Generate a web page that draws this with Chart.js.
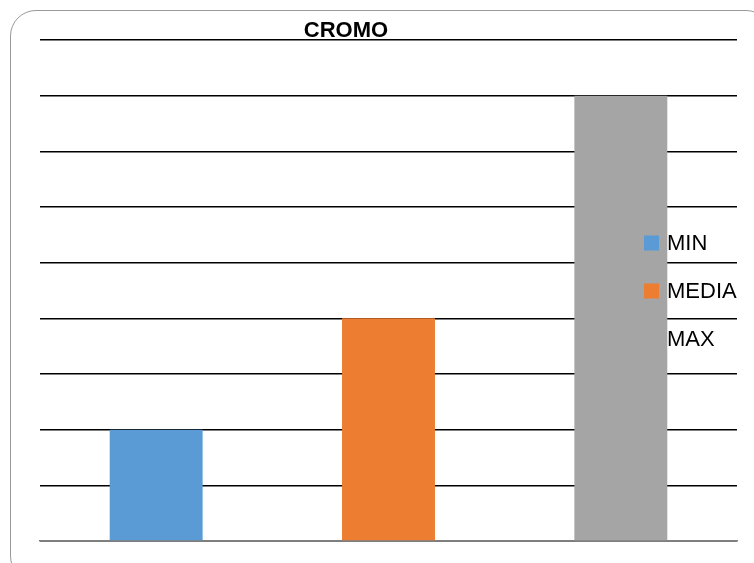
<!DOCTYPE html>
<html>
<head>
<meta charset="utf-8">
<script src="https://cdn.jsdelivr.net/npm/chart.js@4/dist/chart.umd.min.js"></script>
<style>
  html, body { margin: 0; padding: 0; background: #fff; overflow: hidden; }
  #frame {
    position: absolute; left: 10px; top: 10px; width: 760px; height: 570px;
    border: 1.5px solid #999; border-radius: 26px;
  }
  #wrap { position: absolute; left: 0; top: 0; width: 754px; height: 563px; }
</style>
</head>
<body>
<div id="frame"></div>
<div id="wrap"><canvas id="chart"></canvas></div>
<script>
const categories = ['MIN', 'MEDIA', 'MAX'];
const values = [2, 4, 8];
const colors = ['#5b9bd5', '#ed7d31', '#a5a5a5'];
const yMax = 9;

// title + legend sit on top of the plot, so draw them by hand
const overlay = {
  id: 'overlay',
  afterDatasetsDraw(chart) {
    const ctx = chart.ctx;
    const area = chart.chartArea;
    ctx.save();
    ctx.fillStyle = '#000';
    ctx.textBaseline = 'middle';

    ctx.font = 'bold 22px "Liberation Sans", Arial, sans-serif';
    ctx.textAlign = 'center';
    ctx.fillText('CROMO', 346, 31);

    ctx.font = '22px "Liberation Sans", Arial, sans-serif';
    ctx.textAlign = 'left';
    const rowH = 48;
    const midY = (area.top + area.bottom) / 2;
    const startY = midY - rowH * (categories.length - 1) / 2;
    categories.forEach((name, i) => {
      const y = startY + i * rowH;
      ctx.fillStyle = colors[i];
      ctx.fillRect(644, y - 7, 15, 15);
      ctx.fillStyle = '#000';
      ctx.fillText(name, 667, y + 1);
    });
    ctx.restore();
  }
};

new Chart(document.getElementById('chart'), {
  type: 'bar',
  data: {
    labels: categories,
    datasets: [{
      label: 'CROMO',
      data: values,
      backgroundColor: colors,
      categoryPercentage: 0.4,
      barPercentage: 1
    }]
  },
  options: {
    responsive: true,
    maintainAspectRatio: false,
    animation: false,
    layout: {
      padding: { left: 40, right: 17, top: 40, bottom: 14 }
    },
    scales: {
      x: {
        ticks: { display: false },
        grid: { display: false },
        border: { display: true, color: '#7f7f7f', width: 1.5 }
      },
      y: {
        min: 0,
        max: yMax,
        ticks: { display: false, stepSize: 1 },
        grid: { color: '#000', lineWidth: 1.5, drawTicks: false },
        border: { display: false }
      }
    },
    plugins: {
      legend: { display: false },
      tooltip: { enabled: false }
    }
  },
  plugins: [overlay]
});
</script>
</body>
</html>
